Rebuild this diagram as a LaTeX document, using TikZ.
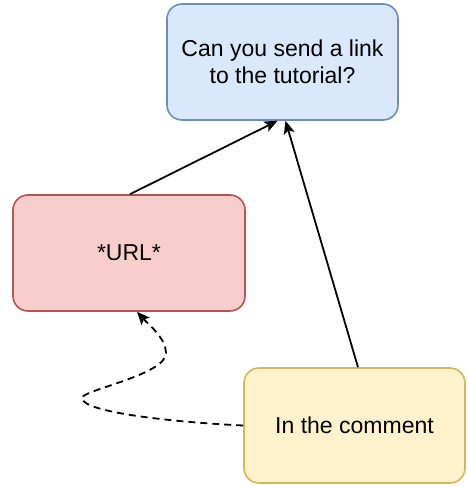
\documentclass[tikz,border=0pt]{standalone}
\usepackage{fontspec}
\setmainfont{Liberation Sans}
\usetikzlibrary{arrows.meta,calc}
\definecolor{bfill}{HTML}{DAE8FC}\definecolor{bdraw}{HTML}{6C8EBF}
\definecolor{rfill}{HTML}{F8CECC}\definecolor{rdraw}{HTML}{B85450}
\definecolor{yfill}{HTML}{FFF2CC}\definecolor{ydraw}{HTML}{D6B656}
\begin{document}
\begin{tikzpicture}[x=1pt,y=1pt,
  box/.style={rounded corners=15pt,line width=1.6pt,inner sep=0pt,align=center,
    font=\fontsize{23}{27.5}\selectfont},
  conn/.style={line width=1.8pt,-{Stealth[length=13pt,width=11pt,inset=3pt]}}]
\useasboundingbox (0,0) rectangle (467,-487);
\node[box,draw=bdraw,fill=bfill,minimum width=231pt,minimum height=116pt] (b) at (282.5,-62) {Can you send a link\\to the tutorial?};
\node[box,draw=rdraw,fill=rfill,minimum width=232pt,minimum height=116pt] (r) at (129,-253) {*URL*};
\node[box,draw=ydraw,fill=yfill,minimum width=221pt,minimum height=115pt] (y) at (354.5,-425.5) {In the comment};
\coordinate (w1) at (82,-398);
\coordinate (w2) at (166,-353);
\draw[conn] ($(r.north)+(1,0)$) -- ($(b.south)+(-5,0)$);
\draw[conn] ($(y.north)+(3.5,0)$) -- ($(b.south)+(3,0)$);
\draw[conn,dash pattern=on 7pt off 5pt] (y.west) .. controls (170,-422) and (82,-412) .. (w1)
  .. controls (82,-390) and (166,-375) .. (w2)
  .. controls (166,-338) and (148,-324) .. ($(r.south)+(8,0)$);
\end{tikzpicture}
\end{document}
